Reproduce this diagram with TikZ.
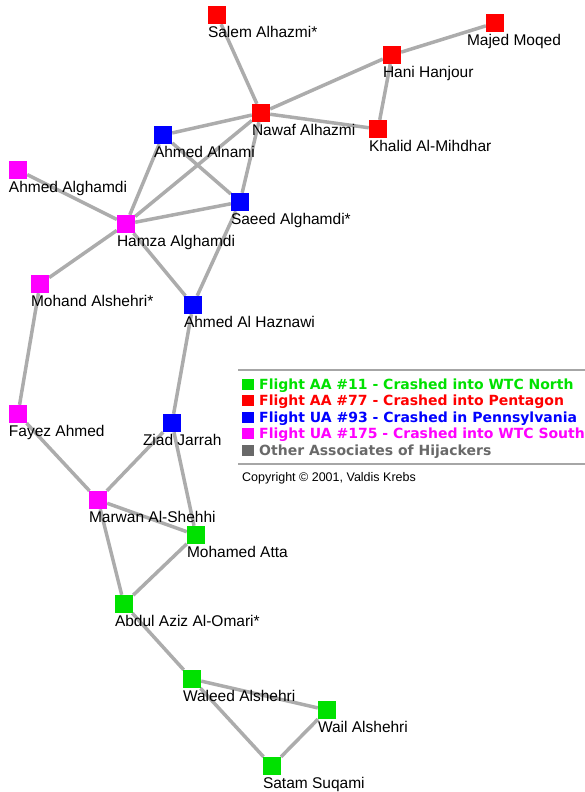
\documentclass[tikz,border=0pt]{standalone}
\usepackage{fontspec}
\setmainfont{Liberation Sans}
\newfontfamily\legendfont{DejaVu Sans}
\usetikzlibrary{positioning,backgrounds}

\definecolor{aa_green}{RGB}{0,225,0}
\definecolor{aa_red}{RGB}{255,0,0}
\definecolor{ua_blue}{RGB}{0,0,255}
\definecolor{ua_pink}{RGB}{255,0,255}
\definecolor{assoc_gray}{RGB}{105,105,105}
\definecolor{link_gray}{RGB}{172,172,172}

\tikzstyle{hijacker}=[rectangle, inner sep=0pt, minimum size=18pt, label distance=0pt]
\tikzstyle{who_label}=[anchor=north west, inner sep=0pt, yshift=-1.5pt, font=\fontsize{15.5}{17}\selectfont]
\tikzstyle{link}=[-, line width=3.5pt, draw=link_gray]
\tikzstyle{key_box}=[rectangle, inner sep=0pt, minimum width=12pt, minimum height=11pt]
\tikzstyle{key_text}=[anchor=base west, inner sep=0pt, font=\legendfont\bfseries\fontsize{14}{16}\selectfont]
\tikzstyle{key_rule}=[line width=2pt, draw=black!35]

\begin{document}
\begin{tikzpicture}[x=1pt,y=-1pt]
\useasboundingbox (0,0) rectangle (585,792);

% AA #77
\node[hijacker,fill=aa_red,label={[who_label]south west:Salem Alhazmi*}] (salem) at (217,15) {};
\node[hijacker,fill=aa_red,label={[who_label,xshift=-19pt]south west:Majed Moqed}] (majed) at (495,23) {};
\node[hijacker,fill=aa_red,label={[who_label]south west:Hani Hanjour}] (hani) at (392,55) {};
\node[hijacker,fill=aa_red,label={[who_label]south west:Nawaf Alhazmi}] (nawaf) at (261,113) {};
\node[hijacker,fill=aa_red,label={[who_label]south west:Khalid Al-Mihdhar}] (khalid) at (378,129) {};

% UA #93
\node[hijacker,fill=ua_blue,label={[who_label]south west:Ahmed Alnami}] (alnami) at (163,135) {};
\node[hijacker,fill=ua_blue,label={[who_label]south west:Saeed Alghamdi*}] (saeed) at (240,202) {};
\node[hijacker,fill=ua_blue,label={[who_label]south west:Ahmed Al Haznawi}] (haznawi) at (193,305) {};
\node[hijacker,fill=ua_blue,label={[who_label,xshift=-20pt]south west:Ziad Jarrah}] (ziad) at (172,423) {};

% UA #175
\node[hijacker,fill=ua_pink,label={[who_label]south west:Ahmed Alghamdi}] (a_alghamdi) at (18,170) {};
\node[hijacker,fill=ua_pink,label={[who_label]south west:Hamza Alghamdi}] (hamza) at (126,224) {};
\node[hijacker,fill=ua_pink,label={[who_label]south west:Mohand Alshehri*}] (mohand) at (40,284) {};
\node[hijacker,fill=ua_pink,label={[who_label]south west:Fayez Ahmed}] (fayez) at (18,414) {};
\node[hijacker,fill=ua_pink,label={[who_label]south west:Marwan Al-Shehhi}] (marwan) at (98,500) {};

% AA #11
\node[hijacker,fill=aa_green,label={[who_label]south west:Mohamed Atta}] (atta) at (196,535) {};
\node[hijacker,fill=aa_green,label={[who_label]south west:Abdul Aziz Al-Omari*}] (omari) at (124,604) {};
\node[hijacker,fill=aa_green,label={[who_label]south west:Waleed Alshehri}] (waleed) at (192,679) {};
\node[hijacker,fill=aa_green,label={[who_label]south west:Wail Alshehri}] (wail) at (327,710) {};
\node[hijacker,fill=aa_green,label={[who_label]south west:Satam Suqami}] (satam) at (272,766) {};

\begin{scope}[on background layer]
\draw[link] (salem) -- (nawaf);
\draw[link] (nawaf) -- (hani);
\draw[link] (hani) -- (majed);
\draw[link] (hani) -- (khalid);
\draw[link] (nawaf) -- (khalid);
\draw[link] (nawaf) -- (alnami);
\draw[link] (nawaf) -- (hamza);
\draw[link] (nawaf) -- (saeed);
\draw[link] (alnami) -- (saeed);
\draw[link] (alnami) -- (hamza);
\draw[link] (a_alghamdi) -- (hamza);
\draw[link] (hamza) -- (saeed);
\draw[link] (hamza) -- (mohand);
\draw[link] (hamza) -- (haznawi);
\draw[link] (saeed) -- (haznawi);
\draw[link] (mohand) -- (fayez);
\draw[link] (haznawi) -- (ziad);
\draw[link] (fayez) -- (marwan);
\draw[link] (ziad) -- (marwan);
\draw[link] (ziad) -- (atta);
\draw[link] (marwan) -- (atta);
\draw[link] (marwan) -- (omari);
\draw[link] (atta) -- (omari);
\draw[link] (omari) -- (waleed);
\draw[link] (waleed) -- (wail);
\draw[link] (waleed) -- (satam);
\draw[link] (wail) -- (satam);
\end{scope}

% legend
\draw[key_rule] (238,370) -- (585,370);
\node[key_box,fill=aa_green] (key_aa11) at (248,384) {};
\node[key_text,text=aa_green] (key_aa11_text) at (259,389) {Flight AA \#11 - Crashed into WTC North};
\node[key_box,fill=aa_red] (key_aa77) at (248,400.5) {};
\node[key_text,text=aa_red] (key_aa77_text) at (259,405.5) {Flight AA \#77 - Crashed into Pentagon};
\node[key_box,fill=ua_blue] (key_ua93) at (248,417) {};
\node[key_text,text=ua_blue] (key_ua93_text) at (259,422) {Flight UA \#93 - Crashed in Pennsylvania};
\node[key_box,fill=ua_pink] (key_ua175) at (248,433.5) {};
\node[key_text,text=ua_pink] (key_ua175_text) at (259,438.5) {Flight UA \#175 - Crashed into WTC South};
\node[key_box,fill=assoc_gray] (key_other) at (248,450) {};
\node[key_text,text=assoc_gray] (key_other_text) at (259,455) {Other Associates of Hijackers};
\draw[key_rule] (238,464) -- (585,464);
\node[anchor=base west,inner sep=0pt,font=\fontsize{12.5}{14}\selectfont] (copyright) at (242,481) {Copyright © 2001, Valdis Krebs};

\end{tikzpicture}
\end{document}
